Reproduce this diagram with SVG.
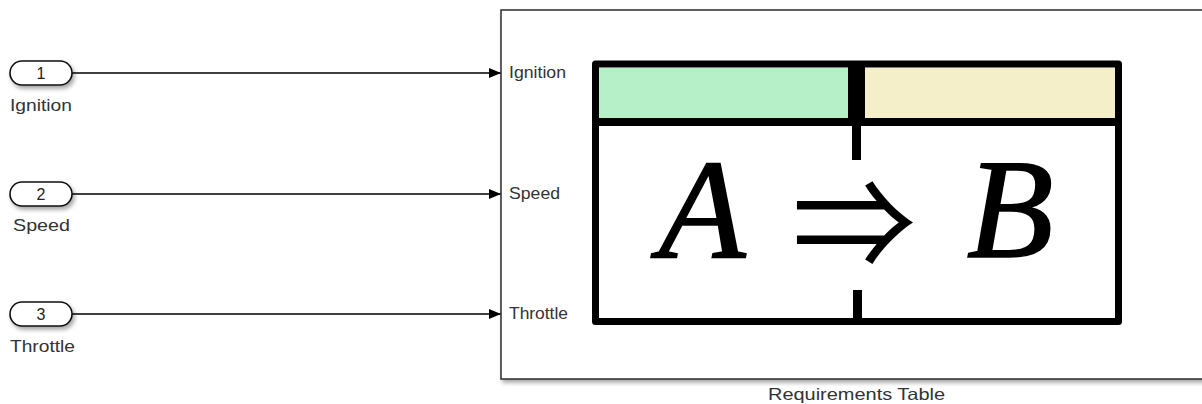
<svg xmlns="http://www.w3.org/2000/svg" width="1202" height="404" viewBox="0 0 1202 404">
  <style>
    .lbl { font-family: "Liberation Sans", Arial, sans-serif; font-size: 16.5px; fill: #333333; }
    .port { fill: #ffffff; stroke: #111111; stroke-width: 1.6; }
    .num { font-family: "Liberation Sans", Arial, sans-serif; font-size: 16px; fill: #222; text-anchor: middle; }
    .wire { stroke: #000; stroke-width: 1.3; fill: none; }
    .math { font-family: "Liberation Serif", "Times New Roman", serif; font-style: italic; font-size: 142px; fill: #000; stroke: #000; stroke-width: 1.6; text-anchor: middle; }
  </style>
  <defs>
    <filter id="sh" x="-10%" y="-10%" width="130%" height="140%">
      <feDropShadow dx="2" dy="3" stdDeviation="2" flood-color="#000" flood-opacity="0.35"/>
    </filter>
    <marker id="arr" markerWidth="12" markerHeight="10" refX="12" refY="5" orient="auto" markerUnits="userSpaceOnUse">
      <path d="M0,0 L12,5 L0,10 Z" fill="#000"/>
    </marker>
  </defs>

  <g id="connectors">
    <line class="wire" x1="72" y1="73" x2="501" y2="73" marker-end="url(#arr)"/>
    <line class="wire" x1="72" y1="194" x2="501" y2="194" marker-end="url(#arr)"/>
    <line class="wire" x1="72" y1="314" x2="501" y2="314" marker-end="url(#arr)"/>
  </g>

  <g id="in1">
    <rect class="port" x="10" y="61" width="62" height="24" rx="12" filter="url(#sh)"/>
    <text class="num" x="41" y="79">1</text>
    <text class="lbl" x="10" y="111" textLength="62" lengthAdjust="spacingAndGlyphs">Ignition</text>
  </g>
  <g id="in2">
    <rect class="port" x="10" y="182" width="62" height="24" rx="12" filter="url(#sh)"/>
    <text class="num" x="41" y="200">2</text>
    <text class="lbl" x="13" y="231" textLength="57" lengthAdjust="spacingAndGlyphs">Speed</text>
  </g>
  <g id="in3">
    <rect class="port" x="10" y="302" width="62" height="24" rx="12" filter="url(#sh)"/>
    <text class="num" x="41" y="320">3</text>
    <text class="lbl" x="10" y="352" textLength="65" lengthAdjust="spacingAndGlyphs">Throttle</text>
  </g>

  <g id="requirements-table">
    <rect x="501" y="10" width="760" height="369" fill="#fff" stroke="#2b2b2b" stroke-width="1.5" filter="url(#sh)"/>
    <text class="lbl" x="509" y="78" textLength="57" lengthAdjust="spacingAndGlyphs">Ignition</text>
    <text class="lbl" x="509" y="199" textLength="51" lengthAdjust="spacingAndGlyphs">Speed</text>
    <text class="lbl" x="509" y="319" textLength="59" lengthAdjust="spacingAndGlyphs">Throttle</text>
    <text class="lbl" x="768" y="400" textLength="177" lengthAdjust="spacingAndGlyphs">Requirements Table</text>

    <!-- icon -->
    <rect x="598" y="68" width="251" height="51" fill="#b6f0c8"/>
    <rect x="864" y="68" width="251" height="51" fill="#f5efc9"/>
    <rect x="595.5" y="64" width="523" height="257.5" fill="none" stroke="#000" stroke-width="7" stroke-linejoin="round"/>
    <rect x="596" y="118" width="522" height="8" fill="#000"/>
    <rect x="848" y="62" width="17" height="60" fill="#000"/>
    <rect x="852" y="120" width="9" height="40" fill="#000"/>
    <rect x="853" y="290" width="9" height="30" fill="#000"/>
    <text class="math" x="702" y="257">A</text>
    <text x="854" y="269" font-family="'Noto Sans CJK JP', 'DejaVu Sans', sans-serif" font-size="124" text-anchor="middle" fill="#000">⇒</text>
    <text class="math" x="1010" y="257">B</text>
  </g>
</svg>
